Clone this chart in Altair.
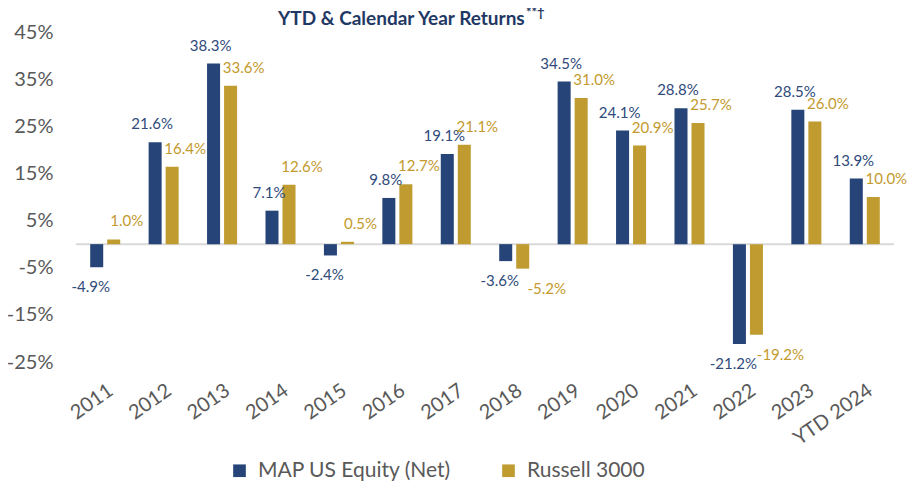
import altair as alt
import pandas as pd

categories = ["2011", "2012", "2013", "2014", "2015", "2016", "2017", "2018",
              "2019", "2020", "2021", "2022", "2023", "YTD 2024"]
map_net = [-4.9, 21.6, 38.3, 7.1, -2.4, 9.8, 19.1, -3.6, 34.5, 24.1, 28.8, -21.2, 28.5, 13.9]
russell = [1.0, 16.4, 33.6, 12.6, 0.5, 12.7, 21.1, -5.2, 31.0, 20.9, 25.7, -19.2, 26.0, 10.0]
series_names = ["MAP US Equity (Net)", "Russell 3000"]
bar_colors = ["#264478", "#BF9B30"]
label_colors = ["#2F4A7B", "#C39A2E"]
y_ticks = [-25, -15, -5, 5, 15, 25, 35, 45]
title_text = "YTD & Calendar Year Returns"
title_sup = "**\u2020"

FONT = "Lato"
GRAY = "#595959"

rows = []
for s, vals in zip(series_names, [map_net, russell]):
    for c, v in zip(categories, vals):
        rows.append({"category": c, "series": s, "value": v, "label": f"{v:.1f}%"})
df = pd.DataFrame(rows)

x_enc = alt.X("category:N", sort=categories,
              scale=alt.Scale(paddingInner=0.486, paddingOuter=0.243),
              axis=alt.Axis(title=None, domain=False, ticks=False, labelAngle=-35,
                            labelFontSize=20, labelColor=GRAY, labelPadding=18,
                            labelFont=FONT))
xo_enc = alt.XOffset("series:N", sort=series_names,
                     scale=alt.Scale(paddingInner=0.235, paddingOuter=0))
y_enc = alt.Y("value:Q", scale=alt.Scale(domain=[-25, 45], nice=False, zero=False),
              axis=alt.Axis(title=None, values=y_ticks, labelExpr="datum.value + '%'",
                            grid=False, domain=False, ticks=False, labelFontSize=20,
                            labelColor=GRAY, labelPadding=23, labelFont=FONT))

base = alt.Chart(df)

bars = base.mark_bar().encode(
    x=x_enc, xOffset=xo_enc, y=y_enc,
    color=alt.Color("series:N", sort=series_names,
                    scale=alt.Scale(domain=series_names, range=bar_colors),
                    legend=alt.Legend(orient="none", legendX=153, legendY=428,
                                      direction="horizontal", title=None,
                                      symbolType="square", symbolSize=160,
                                      symbolStrokeWidth=0, labelFontSize=21,
                                      labelColor=GRAY, labelFont=FONT, labelLimit=0,
                                      columnPadding=46, labelOffset=8)),
)

zero = alt.Chart(pd.DataFrame({"z": [0]})).mark_rule(color="#D9D9D9", strokeWidth=2).encode(
    y=alt.Y("z:Q")
)

label_layers = []
for s, col, dxs in zip(series_names, label_colors, [(-3, -6), (13, 24)]):
    for cond, dy, dx in [("datum.value >= 0", -18, dxs[0]), ("datum.value < 0", 20, dxs[1])]:
        label_layers.append(
            base.transform_filter(f"datum.series == '{s}'")
            .transform_filter(cond)
            .mark_text(font=FONT, fontSize=15, color=col, dx=dx, dy=dy)
            .encode(x=x_enc, xOffset=xo_enc, y=y_enc, text="label:N")
        )

title = alt.Chart(pd.DataFrame({"t": [title_text]})).mark_text(
    font=FONT, fontSize=19, fontWeight="bold", color="#1F3864", align="left", baseline="middle"
).encode(text="t:N", x=alt.value(202), y=alt.value(-13))

sup = alt.Chart(pd.DataFrame({"t": [title_sup]})).mark_text(
    font=FONT, fontSize=13, fontWeight="bold", color="#1F3864", align="left", baseline="middle"
).encode(text="t:N", x=alt.value(450), y=alt.value(-19))

chart = alt.layer(zero, bars, *label_layers, title, sup).properties(
    width=818, height=330, autosize="none",
    padding={"left": 68, "top": 24, "right": 13, "bottom": 120},
).configure(font=FONT, view=alt.ViewConfig(stroke=None))

chart.save("out.html", embed_options={"renderer": "svg", "actions": False})
